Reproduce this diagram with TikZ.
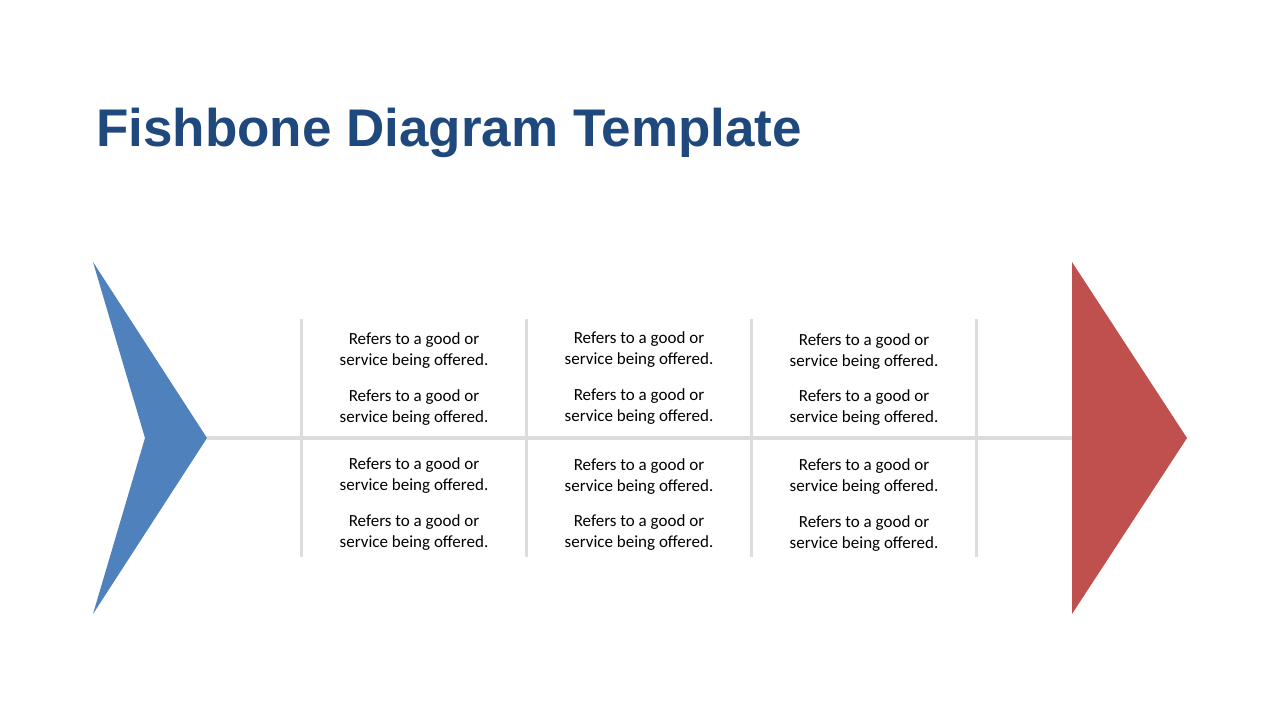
\documentclass[tikz,border=0pt]{standalone}
\usepackage{fontspec}
\setmainfont{Carlito}
\newfontfamily\titlefont{Liberation Sans}
\definecolor{titleblue}{HTML}{1F497D}
\definecolor{headblue}{HTML}{4F81BD}
\definecolor{tailred}{HTML}{C0504D}
\definecolor{bonegray}{HTML}{DCDCDC}
\tikzset{
  bone/.style={draw=bonegray, line width=3.5pt},
  note/.style={align=center, font=\fontsize{17}{21}\selectfont, text=black, inner sep=0pt},
}
\begin{document}
\begin{tikzpicture}[x=1pt,y=-1pt]
\useasboundingbox[fill=white] (0,0) rectangle (1280,720);
\node[anchor=base west, inner sep=0pt, text=titleblue, font=\titlefont\bfseries\fontsize{53}{60}\selectfont] (title) at (96,146) {Fishbone Diagram Template};
% head (blue chevron) and tail (red triangle)
\coordinate (headtip) at (207,438);
\coordinate (tailbase) at (1072,438);
\fill[headblue] (93,262) -- (headtip) -- (93,614) -- (145,438) -- cycle;
\fill[tailred] (1072,262) -- (1187,438) -- (1072,614) -- cycle;
% spine
\draw[bone] (headtip) -- (tailbase);
% bones
\foreach \x [count=\i] in {301,526,751,976}{
  \coordinate (b\i t) at (\x,319);
  \coordinate (b\i b) at (\x,557);
  \draw[bone, line width=3pt] (b\i t) -- (b\i b);
}
% notes
\node[note] (n11) at (414,351) {Refers to a good or\\service being offered.};
\node[note] (n12) at (414,408) {Refers to a good or\\service being offered.};
\node[note] (n13) at (414,476) {Refers to a good or\\service being offered.};
\node[note] (n14) at (414,533) {Refers to a good or\\service being offered.};
\node[note] (n21) at (639,350) {Refers to a good or\\service being offered.};
\node[note] (n22) at (639,407) {Refers to a good or\\service being offered.};
\node[note] (n23) at (639,477) {Refers to a good or\\service being offered.};
\node[note] (n24) at (639,533) {Refers to a good or\\service being offered.};
\node[note] (n31) at (864,352) {Refers to a good or\\service being offered.};
\node[note] (n32) at (864,408) {Refers to a good or\\service being offered.};
\node[note] (n33) at (864,477) {Refers to a good or\\service being offered.};
\node[note] (n34) at (864,534) {Refers to a good or\\service being offered.};
\end{tikzpicture}
\end{document}
